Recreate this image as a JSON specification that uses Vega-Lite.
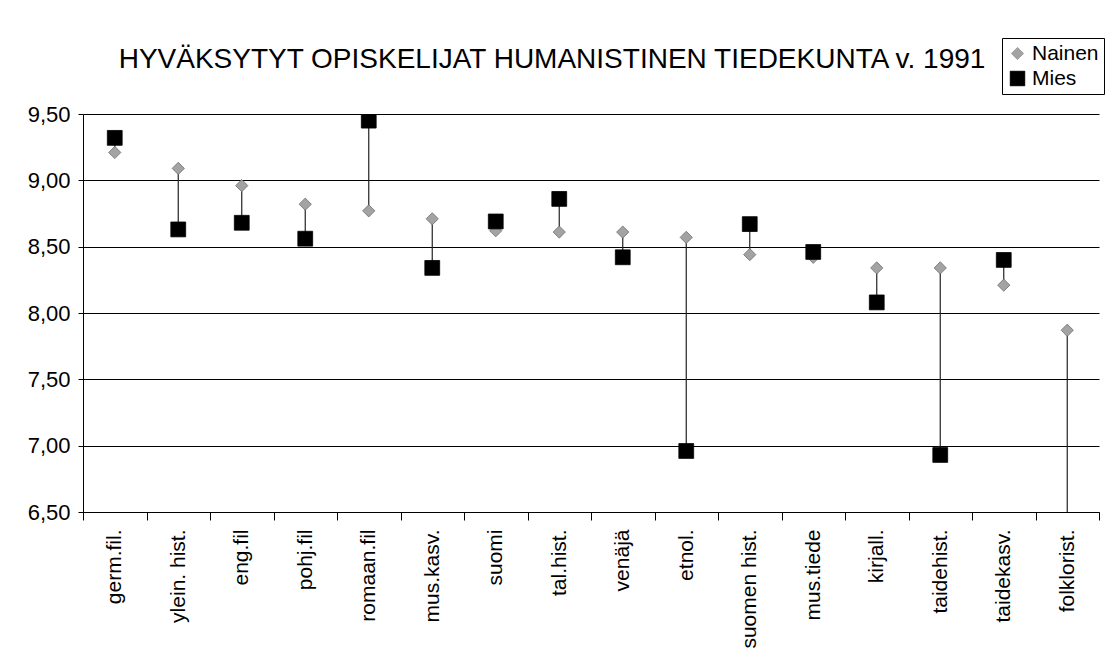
{
  "$schema": "https://vega.github.io/schema/vega-lite/v6.json",
  "autosize": "none",
  "width": 1016,
  "height": 398,
  "padding": {"left": 83, "top": 114, "right": 15, "bottom": 156},
  "background": "white",
  "config": {
    "font": "Liberation Sans",
    "view": {"stroke": null},
    "axis": {"labelColor": "black", "domainColor": "black", "tickColor": "black", "gridColor": "black"},
    "legend": {
      "title": null,
      "orient": "none",
      "legendX": 919,
      "legendY": -76,
      "strokeColor": "black",
      "padding": 5,
      "labelFontSize": 21,
      "labelColor": "black",
      "labelOffset": 4,
      "rowPadding": 3,
      "symbolStrokeWidth": 0.5
    }
  },
  "title": {
    "text": "HYVÄKSYTYT OPISKELIJAT HUMANISTINEN TIEDEKUNTA v. 1991",
    "font": "Liberation Sans",
    "fontSize": 28,
    "fontWeight": "normal",
    "color": "black",
    "anchor": "middle",
    "dx": -39,
    "offset": -36
  },
  "data": {
    "values": [
      {"ala": "germ.fil.", "sukupuoli": "Nainen", "arvo": 9.21},
      {"ala": "ylein. hist.", "sukupuoli": "Nainen", "arvo": 9.09},
      {"ala": "eng.fil", "sukupuoli": "Nainen", "arvo": 8.96},
      {"ala": "pohj.fil", "sukupuoli": "Nainen", "arvo": 8.82},
      {"ala": "romaan.fil", "sukupuoli": "Nainen", "arvo": 8.77},
      {"ala": "mus.kasv.", "sukupuoli": "Nainen", "arvo": 8.71},
      {"ala": "suomi", "sukupuoli": "Nainen", "arvo": 8.62},
      {"ala": "tal.hist.", "sukupuoli": "Nainen", "arvo": 8.61},
      {"ala": "venäjä", "sukupuoli": "Nainen", "arvo": 8.61},
      {"ala": "etnol.", "sukupuoli": "Nainen", "arvo": 8.57},
      {"ala": "suomen hist.", "sukupuoli": "Nainen", "arvo": 8.44},
      {"ala": "mus.tiede", "sukupuoli": "Nainen", "arvo": 8.42},
      {"ala": "kirjall.", "sukupuoli": "Nainen", "arvo": 8.34},
      {"ala": "taidehist.", "sukupuoli": "Nainen", "arvo": 8.34},
      {"ala": "taidekasv.", "sukupuoli": "Nainen", "arvo": 8.21},
      {"ala": "folklorist.", "sukupuoli": "Nainen", "arvo": 7.87},
      {"ala": "germ.fil.", "sukupuoli": "Mies", "arvo": 9.32},
      {"ala": "ylein. hist.", "sukupuoli": "Mies", "arvo": 8.63},
      {"ala": "eng.fil", "sukupuoli": "Mies", "arvo": 8.68},
      {"ala": "pohj.fil", "sukupuoli": "Mies", "arvo": 8.56},
      {"ala": "romaan.fil", "sukupuoli": "Mies", "arvo": 9.45},
      {"ala": "mus.kasv.", "sukupuoli": "Mies", "arvo": 8.34},
      {"ala": "suomi", "sukupuoli": "Mies", "arvo": 8.69},
      {"ala": "tal.hist.", "sukupuoli": "Mies", "arvo": 8.86},
      {"ala": "venäjä", "sukupuoli": "Mies", "arvo": 8.42},
      {"ala": "etnol.", "sukupuoli": "Mies", "arvo": 6.96},
      {"ala": "suomen hist.", "sukupuoli": "Mies", "arvo": 8.67},
      {"ala": "mus.tiede", "sukupuoli": "Mies", "arvo": 8.46},
      {"ala": "kirjall.", "sukupuoli": "Mies", "arvo": 8.08},
      {"ala": "taidehist.", "sukupuoli": "Mies", "arvo": 6.93},
      {"ala": "taidekasv.", "sukupuoli": "Mies", "arvo": 8.40},
      {"ala": "folklorist.", "sukupuoli": "Mies", "arvo": 0}
    ]
  },
  "encoding": {
    "x": {
      "field": "ala",
      "type": "nominal",
      "sort": null,
      "scale": {"paddingInner": 0, "paddingOuter": 0},
      "axis": {
        "title": null,
        "labelAngle": -90,
        "labelAlign": "right",
        "labelBaseline": "middle",
        "labelFontSize": 21,
        "labelPadding": 9,
        "tickBand": "extent",
        "tickSize": 8,
        "grid": false,
        "domainWidth": 1
      }
    }
  },
  "layer": [
    {
      "transform": [
        {"pivot": "sukupuoli", "value": "arvo", "groupby": ["ala"]}
      ],
      "mark": {"type": "rule", "color": "#222", "strokeWidth": 1.2, "clip": true},
      "encoding": {
        "y": {"field": "Nainen", "type": "quantitative", "scale": {"domain": [6.5, 9.5], "nice": false, "zero": false}},
        "y2": {"field": "Mies"}
      }
    },
    {
      "mark": {"type": "point", "filled": true, "opacity": 1, "clip": true, "strokeWidth": 0.8},
      "encoding": {
        "y": {
          "field": "arvo",
          "type": "quantitative",
          "scale": {"domain": [6.5, 9.5], "nice": false, "zero": false},
          "axis": {
            "title": null,
            "values": [6.5, 7, 7.5, 8, 8.5, 9, 9.5],
            "labelExpr": "replace(format(datum.value, '.2f'), '.', ',')",
            "labelFontSize": 22,
            "labelPadding": 8,
            "tickSize": 5,
            "grid": true,
            "gridWidth": 1
          }
        },
        "shape": {
          "field": "sukupuoli",
          "type": "nominal",
          "scale": {"domain": ["Nainen", "Mies"], "range": ["diamond", "square"]}
        },
        "color": {
          "field": "sukupuoli",
          "type": "nominal",
          "scale": {"domain": ["Nainen", "Mies"], "range": ["#a3a3a3", "#000000"]}
        },
        "stroke": {
          "field": "sukupuoli",
          "type": "nominal",
          "scale": {"domain": ["Nainen", "Mies"], "range": ["#6e6e6e", "#000000"]}
        },
        "size": {
          "field": "sukupuoli",
          "type": "nominal",
          "scale": {"domain": ["Nainen", "Mies"], "range": [150, 220]}
        }
      }
    }
  ]
}
